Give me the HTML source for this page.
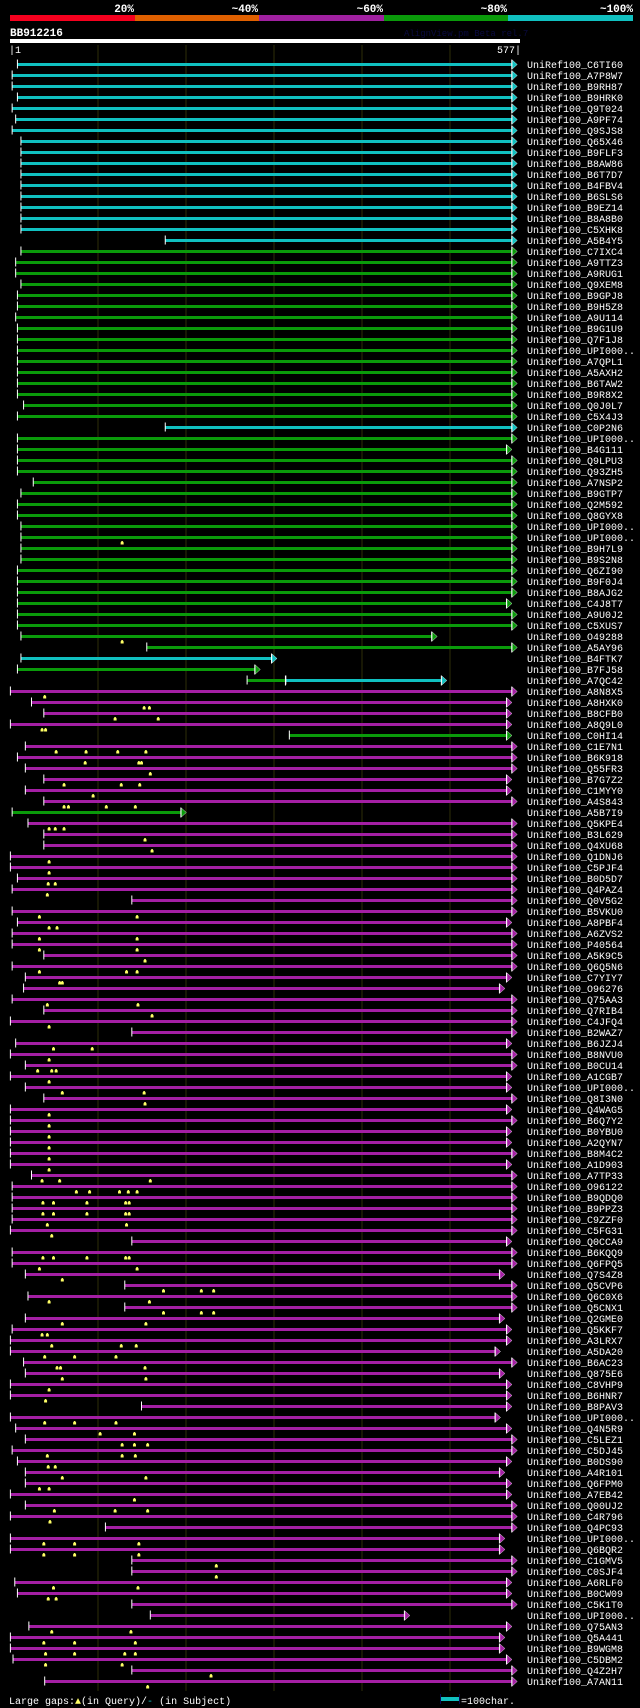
<!DOCTYPE html>
<html><head><meta charset="utf-8">
<style>
html,body{margin:0;padding:0;background:#000;}
svg{display:block;}
text{font-family:"Liberation Mono","DejaVu Sans Mono",monospace;}
</style></head>
<body>
<svg id="chart" xmlns="http://www.w3.org/2000/svg" width="640" height="1708" viewBox="0 0 640 1708">
<rect x="0" y="0" width="640" height="1708" fill="#000"/>
<g>
<rect x="10" y="15" width="125" height="6" fill="#f5001e"/>
<rect x="135" y="15" width="124" height="6" fill="#e06000"/>
<rect x="259" y="15" width="125" height="6" fill="#a020a0"/>
<rect x="384" y="15" width="124" height="6" fill="#0a9a0a"/>
<rect x="508" y="15" width="125" height="6" fill="#10c0c0"/>
<text x="134" y="12" fill="#fff" font-size="11" font-weight="bold" text-anchor="end">20%</text>
<text x="258" y="12" fill="#fff" font-size="11" font-weight="bold" text-anchor="end">~40%</text>
<text x="383" y="12" fill="#fff" font-size="11" font-weight="bold" text-anchor="end">~60%</text>
<text x="507" y="12" fill="#fff" font-size="11" font-weight="bold" text-anchor="end">~80%</text>
<text x="633" y="12" fill="#fff" font-size="11" font-weight="bold" text-anchor="end">~100%</text>
</g>
<text x="10" y="36" fill="#fff" font-size="11" font-weight="bold">BB912216</text>
<text x="404" y="36" fill="#0a0a40" font-size="9">AlignView.pm Beta rel.7</text>
<rect x="10" y="39" width="510" height="4" fill="#fff"/>
<text x="9" y="53" fill="#fff" font-size="10">|1</text>
<text x="521" y="53" fill="#fff" font-size="10" text-anchor="end">577|</text>
<g id="grid"></g>
<g id="rows"></g>
<g>
<text x="9" y="1704" fill="#fff" font-size="10">Large gaps:<tspan fill="#ffff66">▲</tspan>(in Query)/<tspan fill="#10c0c0">-</tspan> (in Subject)</text>
<rect x="441" y="1697" width="18" height="4" fill="#10c0c0"/>
<rect x="440" y="1694" width="1" height="10" fill="#0a0a50"/>
<rect x="459" y="1694" width="1" height="10" fill="#0a0a50"/>
<text x="461" y="1704" fill="#fff" font-size="10">=100char.</text>
</g>
</svg>
<script>
const labels=["C6TI60","A7P8W7","B9RH87","B9HRK0","Q9T024","A9PF74","Q9SJS8","Q65X46","B9FLF3","B8AW86","B6T7D7","B4FBV4","B6SLS6","B9EZ14","B8A8B0","C5XHK8","A5B4Y5","C7IXC4","A9TTZ3","A9RUG1","Q9XEM8","B9GPJ8","B9H5Z8","A9U114","B9G1U9","Q7F1J8","UPI000..","A7QPL1","A5AXH2","B6TAW2","B9R8X2","Q0J0L7","C5X4J3","C0P2N6","UPI000..","B4G111","Q9LPU3","Q93ZH5","A7NSP2","B9GTP7","Q2M592","Q8GYX8","UPI000..","UPI000..","B9H7L9","B9S2N8","Q6ZI90","B9F0J4","B8AJG2","C4J8T7","A9U0J2","C5XUS7","O49288","A5AY96","B4FTK7","B7FJ58","A7QC42","A8N8X5","A8HXK0","B8CFB0","A8Q9L0","C0HI14","C1E7N1","B6K918","Q55FR3","B7G7Z2","C1MYY0","A4S843","A5B7I9","Q5KPE4","B3L629","Q4XU68","Q1DNJ6","C5PJF4","B0D5D7","Q4PAZ4","Q0V5G2","B5VKU0","A8PBF4","A6ZVS2","P40564","A5K9C5","Q6Q5N6","C7YIY7","O96276","Q75AA3","Q7RIB4","C4JFQ4","B2WAZ7","B6JZJ4","B8NVU0","B0CU14","A1CGB7","UPI000..","Q8I3N0","Q4WAG5","B6Q7Y2","B0YBU0","A2QYN7","B8M4C2","A1D903","A7TP33","O96122","B9QDQ0","B9PPZ3","C9ZZF0","C5FG31","Q0CCA9","B6KQQ9","Q6FPQ5","Q7S4Z8","Q5CVP6","Q6C0X6","Q5CNX1","Q2GME0","Q5KKF7","A3LRX7","A5DA20","B6AC23","Q875E6","C8VHP9","B6HNR7","B8PAV3","UPI000..","Q4N5R9","C5LEZ1","C5DJ45","B0DS90","A4R101","Q6FPM0","A7EB42","Q00UJ2","C4R796","Q4PC93","UPI000..","Q6BQR2","C1GMV5","C0SJF4","A6RLF0","B0CW09","C5K1T0","UPI000..","Q75AN3","Q5A441","B9WGM8","C5DBM2","Q4Z2H7","A7AN11"];
const colorCodes="cccccccccccccccccggggggggggggggggcggggggggggggggggggggcgcmmmmgmmmmmmgmmmmmmmmmmmmmmmmmmmmmmmmmmmmmmmmmmmmmmmmmmmmmmmmmmmmmmmmmmmmmmmmmmmmmmmmmmmmmmmmmmmmmmmm";
const starts=[9,3,3,9,3,7,3,13,13,13,13,13,13,13,13,13,177,13,7,7,13,9,9,7,9,9,9,9,9,9,9,16,9,177,9,9,9,9,27,13,9,9,13,13,13,13,9,9,9,9,9,9,13,156,13,9,314,1,25,39,1,318,18,9,18,39,18,39,3,21,39,39,1,1,9,3,139,3,9,3,3,39,3,18,16,3,39,1,139,7,1,18,1,18,39,1,1,1,1,1,1,25,3,3,3,3,1,139,3,3,18,131,21,131,18,3,1,1,16,18,1,1,150,1,7,18,3,9,18,18,1,18,1,109,1,1,139,139,6,9,139,160,22,1,1,4,139,40];
const ends=[577,577,577,577,577,577,577,577,577,577,577,577,577,577,577,577,577,577,577,577,577,577,577,577,577,577,577,577,577,577,577,577,577,577,577,571,577,577,577,577,577,577,577,577,577,577,577,577,577,571,577,577,486,577,304,285,497,577,571,571,571,571,577,577,577,571,571,577,201,577,577,577,577,577,577,577,577,577,571,577,577,577,577,571,563,577,577,577,577,571,577,577,571,571,577,571,577,571,571,577,571,577,577,577,577,577,577,571,577,577,563,577,577,577,563,571,571,558,577,563,571,571,571,558,571,577,577,571,563,571,571,577,577,577,563,563,577,577,571,571,577,455,571,563,563,571,577,577];
// extra leading segment for A7QC42 (green part before the cyan part)
const preSegRow=[56];
const preSegStart=[270];
const preSegEnd=[313];
const preSegColor=["g"];
// query gap markers: [row, position]
const gapMarks=[[43,128],[52,128],[57,40],[58,153],[58,159],[59,120],[59,169],[60,37],[60,41],[62,53],[62,87],[62,123],[62,155],[63,86],[63,147],[63,150],[64,160],[65,62],[65,127],[65,148],[66,95],[67,62],[67,67],[67,110],[67,143],[69,45],[69,52],[69,62],[70,154],[71,162],[72,45],[73,45],[74,44],[74,52],[75,43],[77,34],[77,145],[78,45],[78,54],[79,34],[79,145],[80,34],[80,145],[81,154],[82,34],[82,133],[82,145],[83,57],[83,60],[85,43],[85,146],[86,162],[87,45],[89,50],[89,94],[90,45],[91,32],[91,48],[91,53],[92,45],[93,60],[93,153],[94,154],[95,45],[96,45],[97,45],[98,45],[99,45],[100,45],[101,37],[101,57],[101,160],[102,76],[102,91],[102,125],[102,135],[102,145],[103,38],[103,50],[103,88],[103,132],[103,136],[104,38],[104,50],[104,88],[104,132],[104,136],[105,43],[105,133],[106,48],[108,38],[108,50],[108,88],[108,132],[108,136],[109,34],[109,145],[110,60],[111,175],[111,218],[111,232],[112,45],[112,159],[113,175],[113,218],[113,232],[114,60],[114,155],[115,37],[115,43],[116,48],[116,127],[116,144],[117,40],[117,74],[117,121],[118,54],[118,58],[118,154],[119,60],[119,155],[120,45],[121,41],[123,40],[123,74],[123,121],[124,103],[124,142],[125,128],[125,142],[125,157],[126,43],[126,128],[126,143],[127,44],[127,52],[128,60],[128,155],[129,34],[129,45],[130,142],[131,51],[131,120],[131,157],[132,46],[134,39],[134,74],[134,147],[135,39],[135,74],[135,147],[136,235],[137,235],[138,50],[138,146],[139,44],[139,53],[142,48],[142,138],[143,39],[143,74],[143,143],[144,41],[144,74],[144,131],[144,143],[145,41],[145,128],[146,229],[147,157]];
const gridTicks=[100,200,300,400,500];

const NS="http://www.w3.org/2000/svg";
const palette={c:"#10c0c0",g:"#0a9a0a",m:"#a41fa4"};
function xPos(p){return 9.5+p*0.88;}
function rowY(k){return 64.5+k*11;}
function mk(tag,attrs,parent){const e=document.createElementNS(NS,tag);for(const a in attrs)e.setAttribute(a,attrs[a]);parent.appendChild(e);return e;}

const grid=document.getElementById("grid");
gridTicks.forEach(t=>{
  const l=mk("rect",{x:Math.round(xPos(t))-0.5,y:45,width:1,height:1646,fill:"#2e2e08"},grid);
  
  
});

const rowsG=document.getElementById("rows");
labels.forEach((lab,k)=>{
  const g=mk("g",{},rowsG);
  
  
  const cy=rowY(k);
  const col=palette[colorCodes[k]];
  const x0=xPos(starts[k]), x1=xPos(ends[k]);
  const bar=mk("rect",{x:x0,y:cy-1.5,width:Math.max(0,x1-5-x0),height:3,fill:col},g);
  
  
  const tick=mk("rect",{x:x0-0.5,y:cy-5,width:1,height:9,fill:"#fff"},g);
  
  
  const base=mk("rect",{x:x1-6,y:cy-5,width:1,height:10,fill:"#fff"},g);
  
  
  const arr=mk("polygon",{points:(x1-5)+","+(cy-4.5)+" "+x1+","+cy+" "+(x1-5)+","+(cy+4.5),fill:col,stroke:"#fff","stroke-width":"0.4"},g);
  
  
  const t=mk("text",{x:527,y:cy+3.5,fill:"#fff","font-size":"10"},g);
  t.textContent="UniRef100_"+lab;
  
  
});
preSegRow.forEach((r,i)=>{
  const cy=rowY(r);
  const x0=xPos(preSegStart[i]), x1=xPos(preSegEnd[i]);
  const s=mk("rect",{x:x0,y:cy-1.5,width:x1-x0,height:3,fill:palette[preSegColor[i]]},rowsG);
  
  
  const tk=mk("rect",{x:x0-0.5,y:cy-5,width:1,height:9,fill:"#fff"},rowsG);
  
  
  const tk2=mk("rect",{x:x1,y:cy-5,width:1,height:10,fill:"#fff"},rowsG);
  
  
});
gapMarks.forEach(m=>{
  const cy=rowY(m[0]), x=xPos(m[1]);
  const a=mk("polygon",{points:(x-1.5)+","+(cy+7)+" "+(x-1.5)+","+(cy+5)+" "+(x-0.5)+","+(cy+3.5)+" "+(x+0.5)+","+(cy+3.5)+" "+(x+1.5)+","+(cy+5)+" "+(x+1.5)+","+(cy+7),fill:"#ffff66"},rowsG);
  
  
});
</script>
</body></html>
